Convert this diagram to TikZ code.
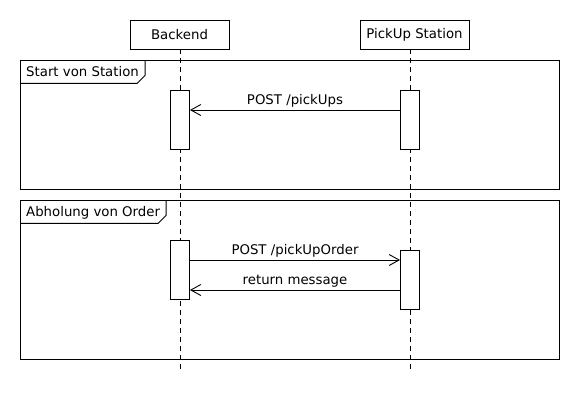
\documentclass[tikz,border=0pt]{standalone}
\usepackage{fontspec}
\setmainfont{DejaVu Sans}
\usetikzlibrary{arrows.meta}
\begin{document}
\begin{tikzpicture}[x=1pt,y=-1pt,
  every node/.style={font=\fontsize{13.3}{15}\selectfont},
  head/.style={draw,line width=0.9pt,minimum height=29pt,inner sep=0pt,fill=white},
  lifeline/.style={line width=0.9pt,dash pattern=on 5pt off 4pt},
  act/.style={draw,line width=0.9pt,fill=white,minimum width=19pt,inner sep=0pt},
  framebox/.style={line width=0.9pt},
  tab/.style={anchor=north west,inner xsep=6pt,inner ysep=0pt,minimum height=23pt,text depth=0pt},
  msg/.style={line width=0.9pt,-{Straight Barb[length=10pt,width=11pt,line width=0.9pt]}},
  lbl/.style={anchor=south,inner sep=0pt,text depth=4pt,yshift=1pt}
]
\useasboundingbox (0,0) rectangle (580,410);
% participants
\node[head,minimum width=99pt] (backend) at (179.5,34.5) {Backend};
\node[head,minimum width=109pt] (pickup) at (414.5,34.5) {PickUp Station};
\coordinate (bEnd) at (180,371);
\coordinate (pEnd) at (410,371);
\draw[lifeline] (backend.south -| bEnd) -- (bEnd);
\draw[lifeline] (pickup.south -| pEnd) -- (pEnd);
% frame 1
\draw[framebox] (20,60) rectangle (559,189);
\node[tab] (t1) at (20,60) {Start von Station\hspace{2pt}};
\draw[framebox] (t1.south west) -- ([xshift=-8pt]t1.south east) -- ([yshift=8pt]t1.south east) -- (t1.north east);
% frame 2
\draw[framebox] (20,200) rectangle (559,359);
\node[tab] (t2) at (20,200) {Abholung von Order\hspace{2pt}};
\draw[framebox] (t2.south west) -- ([xshift=-8pt]t2.south east) -- ([yshift=8pt]t2.south east) -- (t2.north east);
% activations
\node[act,minimum height=59pt] (ba1) at (180,119.5) {};
\node[act,minimum height=59pt] (pa1) at (410,119.5) {};
\node[act,minimum height=59pt] (ba2) at (180,269.5) {};
\node[act,minimum height=59pt] (pa2) at (410,279.5) {};
% messages
\coordinate (m1s) at (400,110);
\coordinate (m1e) at (190,110);
\draw[msg] (pa1.west |- m1s) -- node[lbl] (l1) {POST /pickUps} (ba1.east |- m1e);
\coordinate (m2) at (300,260);
\draw[msg] (ba2.east |- m2) -- node[lbl] (l2) {POST /pickUpOrder} (pa2.west |- m2);
\coordinate (m3) at (300,290);
\draw[msg] (pa2.west |- m3) -- node[lbl] (l3) {return message} (ba2.east |- m3);
\end{tikzpicture}
\end{document}
